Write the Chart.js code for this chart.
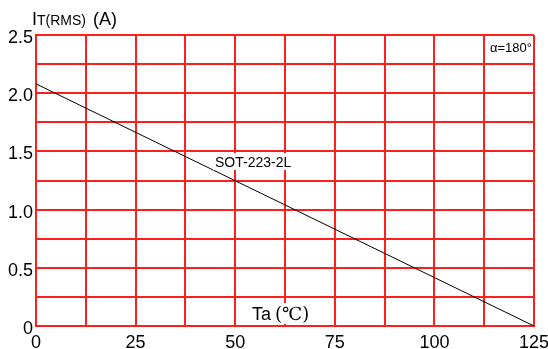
<!DOCTYPE html>
<html>
<head>
<meta charset="utf-8">
<script src="https://cdn.jsdelivr.net/npm/chart.js@4"></script>
<style>
  body { margin: 0; background: #fff; }
  #wrap { width: 548px; height: 349px; }
</style>
</head>
<body>
<div id="wrap"><canvas id="c" width="548" height="349"></canvas></div>
<script>
// 周囲温度 (℃) と許容電流 (A)
var temps = [0, 125];
var currents = [2.08, 0];
var xTicks = [0, 25, 50, 75, 100, 125];
var yTicks = ['0', '0.5', '1.0', '1.5', '2.0', '2.5'];
var seriesLabel = 'SOT-223-2L';

var FONT = 'Liberation Sans, Arial, sans-serif';
var RED = 'rgb(255, 30, 30)';

// 注記テキスト描画
var notes = {
  id: 'notes',
  afterDraw: function (chart) {
    var ctx = chart.ctx;
    var xs = chart.scales.x;
    ctx.save();
    ctx.fillStyle = '#000';
    ctx.textBaseline = 'alphabetic';

    // 縦軸タイトル
    ctx.textAlign = 'left';
    ctx.font = '18px ' + FONT;
    ctx.fillText('I', 32, 25);
    ctx.font = '14px ' + FONT;
    ctx.fillText('T(RMS)', 37, 25);
    ctx.font = '18px ' + FONT;
    ctx.fillText('(A)', 93, 25);

    // α
    ctx.font = '13px ' + FONT;
    ctx.textAlign = 'right';
    ctx.fillText('α=180°', xs.right - 2, 52);

    // 系列名
    ctx.font = '14px ' + FONT;
    ctx.textAlign = 'left';
    var w = ctx.measureText(seriesLabel).width;
    ctx.fillStyle = '#fff';
    ctx.fillRect(213, 153, w + 4, 17);
    ctx.fillStyle = '#000';
    ctx.fillText(seriesLabel, 215, 167);

    // 横軸タイトル
    ctx.font = '18px ' + FONT;
    var t1 = 'Ta';
    var w1 = ctx.measureText(t1).width;
    ctx.fillStyle = '#fff';
    ctx.fillRect(250, 303, 66, 21);
    ctx.fillStyle = '#000';
    ctx.fillText(t1, 252, 320);
    ctx.font = '18px DejaVu Serif, serif';
    ctx.fillText('(℃)', 252 + w1 + 4, 320);
    ctx.restore();
  }
};

new Chart(document.getElementById('c'), {
  type: 'line',
  data: {
    datasets: [{
      label: seriesLabel,
      data: temps.map(function (t, i) { return { x: t, y: currents[i] }; }),
      borderColor: '#000',
      borderWidth: 1,
      pointRadius: 0,
      fill: false,
      tension: 0
    }]
  },
  options: {
    responsive: false,
    animation: false,
    layout: { padding: { top: 35, right: 14, left: 0, bottom: 0 } },
    plugins: { legend: { display: false }, tooltip: { enabled: false } },
    scales: {
      x: {
        type: 'linear',
        min: 0, max: 125,
        ticks: {
          stepSize: 12.5,
          autoSkip: false,
          maxRotation: 0,
          color: '#000',
          font: { family: FONT, size: 18 },
          padding: 6,
          callback: function (v) { return xTicks.indexOf(v) >= 0 ? String(v) : ''; }
        },
        grid: { color: RED, lineWidth: 2, drawTicks: false },
        border: { color: RED, width: 2 },
        afterFit: function (s) { s.height = 23; s.paddingLeft = 0; s.paddingRight = 0; }
      },
      y: {
        min: 0, max: 2.5,
        ticks: {
          stepSize: 0.25,
          autoSkip: false,
          color: '#000',
          font: { family: FONT, size: 18 },
          padding: 3,
          labelOffset: 3,
          callback: function (v) {
            var s = v === 0 ? '0' : v.toFixed(1);
            return Math.abs(v * 2 - Math.round(v * 2)) < 1e-9 && yTicks.indexOf(s) >= 0 ? s : '';
          }
        },
        grid: { color: RED, lineWidth: 2, drawTicks: false },
        border: { color: RED, width: 2 },
        afterFit: function (s) { s.width = 36; s.paddingTop = 0; s.paddingBottom = 0; }
      }
    }
  },
  plugins: [notes]
});
</script>
</body>
</html>
